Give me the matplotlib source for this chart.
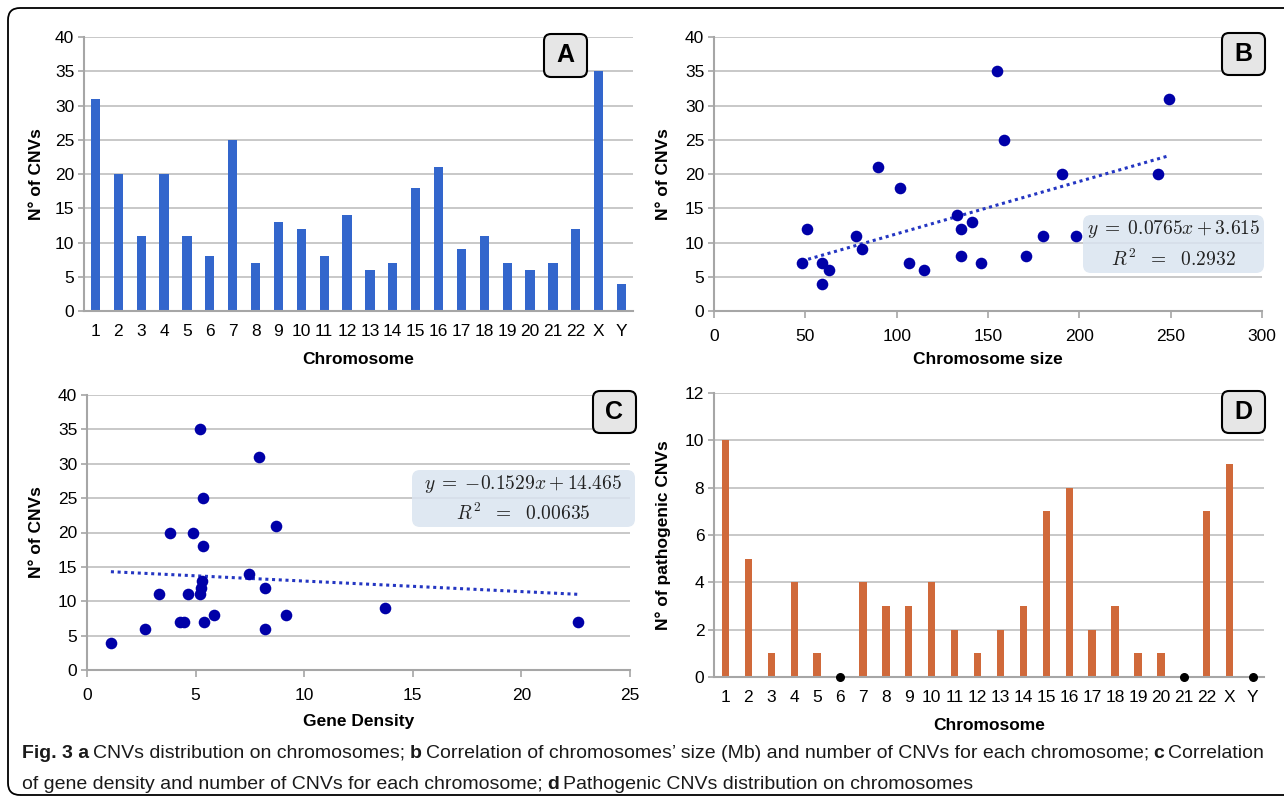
import numpy as np
import matplotlib
matplotlib.use("Agg")
import matplotlib.pyplot as plt
from matplotlib.patches import FancyBboxPatch
from matplotlib.text import Annotation

W, H = 1284, 801

# ---- data ----
chromosomes = [str(i) for i in range(1, 23)] + ['X', 'Y']
cnv_counts = [31, 20, 11, 20, 11, 8, 25, 7, 13, 12, 8, 14, 6, 7, 18, 21, 9, 11, 7, 6, 7, 12, 35, 4]
pathogenic_counts = [10, 5, 1, 4, 1, 0, 4, 3, 3, 4, 2, 1, 2, 3, 7, 8, 2, 3, 1, 1, 0, 7, 9, 0]

size_x = [48, 51, 59, 59, 63, 78, 81, 90, 102, 107, 115, 133, 135, 135, 141, 146,
          155, 159, 171, 180, 190.5, 198, 243, 249]
size_y = [7, 12, 7, 4, 6, 11, 9, 21, 18, 7, 6, 14, 12, 8, 13, 7,
          35, 25, 8, 11, 20, 11, 20, 31]
size_fit = (0.0765, 3.615)

dens_x = [1.1, 2.65, 3.3, 3.8, 4.3, 4.45, 4.65, 4.9, 5.2, 5.2, 5.25, 5.3, 5.35, 5.35,
          5.4, 5.85, 7.45, 7.9, 8.2, 8.2, 8.7, 9.15, 13.7, 22.6]
dens_y = [4, 6, 11, 20, 7, 7, 11, 20, 35, 11, 12, 13, 25, 18,
          7, 8, 14, 31, 12, 6, 21, 8, 9, 7]
dens_fit = (-0.1529, 14.465)

plt.rcParams['font.family'] = ['Liberation Sans', 'DejaVu Sans']
plt.rcParams['mathtext.fontset'] = 'cm'

fig = plt.figure(figsize=(W / 100, H / 100), dpi=100)

GRID = '#c4c4c4'
SPINE = '#a6a6a6'
BLUE_BAR = '#3366cc'
ORANGE_BAR = '#d0693a'
DOT = '#0000a8'
TREND = '#2436c2'


def axes_px(x0, y0, x1, y1):
    # pixel box (top-left origin) -> axes
    return fig.add_axes([x0 / W, 1 - y1 / H, (x1 - x0) / W, (y1 - y0) / H])


def style(ax, xticks_out=False):
    for s in ['top', 'right']:
        ax.spines[s].set_visible(False)
    for s in ['left', 'bottom']:
        ax.spines[s].set_color(SPINE)
        ax.spines[s].set_linewidth(1.5)
    ax.yaxis.grid(True, color=GRID, linewidth=1.3)
    ax.set_axisbelow(True)
    ax.tick_params(axis='y', length=4, width=1.2, color=SPINE, labelsize=12.5, pad=3)
    if xticks_out:
        ax.tick_params(axis='x', length=5, width=1.2, color=SPINE, labelsize=12.5, pad=8)
    else:
        ax.tick_params(axis='x', length=0, labelsize=12.5, pad=9)


def px_box(x0, y0, x1, y1, fc, ec='none', lw=0, r=6, alpha=1.0, z=1):
    p = FancyBboxPatch((x0, H - y1), x1 - x0, y1 - y0,
                       boxstyle='round,pad=0,rounding_size=%d' % r,
                       fc=fc, ec=ec, lw=lw, alpha=alpha, transform=None, zorder=z)
    fig.add_artist(p)


def panel_label(letter, x0, y0, x1, y1):
    px_box(x0, y0, x1, y1, fc='#e6e6e6', ec='black', lw=1.5, r=7, z=4)
    fig.text((x0 + x1) / 2, H - (y0 + y1) / 2, letter, transform=None, ha='center',
             va='center', fontsize=18, fontweight='bold', zorder=5)


def eq_box(x0, y0, x1, y1, line1, line2):
    px_box(x0, y0, x1, y1, fc='#dae4f0', r=8, alpha=0.85, z=3)
    cx = (x0 + x1) / 2
    h = y1 - y0
    fig.text(cx, H - (y0 + h * 0.25), line1, transform=None, ha='center', va='center',
             fontsize=14, zorder=5, color='#222222')
    fig.text(cx, H - (y0 + h * 0.76), line2, transform=None, ha='center', va='center',
             fontsize=14, zorder=5, color='#222222')


pos = np.arange(len(chromosomes))

# ---- A ----
axA = axes_px(84, 37, 633, 311)
axA.bar(pos, cnv_counts, width=0.4, color=BLUE_BAR)
axA.set_xlim(-0.5, len(chromosomes) - 0.5)
axA.set_ylim(0, 40)
axA.set_yticks(range(0, 41, 5))
axA.set_xticks(pos, chromosomes)
style(axA)
axA.set_ylabel('N° of CNVs', fontsize=12.5, fontweight='bold', labelpad=8)
axA.set_xlabel('Chromosome', fontsize=12.5, fontweight='bold', labelpad=10)

# ---- B ----
axB = axes_px(714, 37, 1262, 311)
axB.scatter(size_x, size_y, s=70, color=DOT, zorder=3, linewidths=0)
xb = np.array([min(size_x), max(size_x)])
axB.plot(xb, size_fit[0] * xb + size_fit[1], linestyle=(0, (1, 1.2)), color=TREND, lw=2.2, zorder=2)
axB.set_xlim(0, 300)
axB.set_ylim(0, 40)
axB.set_yticks(range(0, 41, 5))
axB.set_xticks(range(0, 301, 50))
style(axB, xticks_out=True)
axB.set_ylabel('N° of CNVs', fontsize=12.5, fontweight='bold', labelpad=10)
axB.set_xlabel('Chromosome size', fontsize=12.5, fontweight='bold', labelpad=6)

# ---- C ----
axC = axes_px(87, 395, 630, 670)
axC.scatter(dens_x, dens_y, s=70, color=DOT, zorder=3, linewidths=0)
xc = np.array([min(dens_x), max(dens_x)])
axC.plot(xc, dens_fit[0] * xc + dens_fit[1], linestyle=(0, (1, 1.2)), color=TREND, lw=2.2, zorder=2)
axC.set_xlim(0, 25)
axC.set_ylim(0, 40)
axC.set_yticks(range(0, 41, 5))
axC.set_xticks(range(0, 26, 5))
style(axC, xticks_out=True)
axC.set_ylabel('N° of CNVs', fontsize=12.5, fontweight='bold', labelpad=10)
axC.set_xlabel('Gene Density', fontsize=12.5, fontweight='bold', labelpad=8)

# ---- D ----
axD = axes_px(714, 393, 1264, 677)
axD.bar(pos, pathogenic_counts, width=0.32, color=ORANGE_BAR)
zero = [i for i, v in enumerate(pathogenic_counts) if v == 0]
axD.scatter(zero, [0] * len(zero), s=30, color='black', zorder=4, clip_on=False)
axD.set_xlim(-0.5, len(chromosomes) - 0.5)
axD.set_ylim(0, 12)
axD.set_yticks(range(0, 13, 2))
axD.set_xticks(pos, chromosomes)
style(axD)
axD.set_ylabel('N° of pathogenic CNVs', fontsize=12.5, fontweight='bold', labelpad=10)
axD.set_xlabel('Chromosome', fontsize=12.5, fontweight='bold', labelpad=10)

# ---- labels / boxes ----
panel_label('A', 544, 34, 587, 77)
panel_label('B', 1222, 33, 1265, 75)
panel_label('C', 593, 391, 636, 433)
panel_label('D', 1222, 391, 1265, 433)

eq_box(1083, 215, 1264, 273, r'$y\;=\;0.0765x + 3.615$', r'$R^2\ \ =\ \ 0.2932$')
eq_box(412, 470, 635, 527, r'$y\;=\;{-}0.1529x + 14.465$', r'$R^2\ \ =\ \ 0.00635$')

# outer frame
px_box(8, 8, 1310, 795, fc='none', ec='black', lw=1.3, r=12, z=0)

# ---- caption ----
cap_lines = [
    [('Fig. 3 a', True), ('CNVs distribution on chromosomes;', False), ('b', True),
     ('Correlation of chromosomes’ size (Mb) and number of CNVs for each chromosome;', False),
     ('c', True), ('Correlation', False)],
    [('of gene density and number of CNVs for each chromosome;', False), ('d', True),
     ('Pathogenic CNVs distribution on chromosomes', False)],
]
cap_size = 13
cap_texts = []
line_ends = []
for row, baseline in zip(cap_lines, [758, 789]):
    prev = None
    for txt, bold in row:
        kw = dict(fontsize=cap_size, color='#1a1a1a',
                  fontweight='bold' if bold else 'normal')
        if prev is None:
            prev = fig.text(22, H - baseline, txt, transform=None, ha='left', va='baseline', **kw)
        else:
            a = Annotation(txt, xy=(1, 0), xycoords=prev, xytext=(3.0, 0),
                           textcoords='offset points', ha='left', va='bottom', **kw)
            fig.add_artist(a)
            prev = a
        cap_texts.append(prev)
    line_ends.append(prev)

# shrink the caption so the first line ends where the reference's does
fig.canvas.draw()
right = line_ends[0].get_window_extent().x1
scale = (1256 - 22) / (right - 22)
for t in cap_texts:
    t.set_fontsize(cap_size * scale)

fig.savefig('out.png', dpi=100)
